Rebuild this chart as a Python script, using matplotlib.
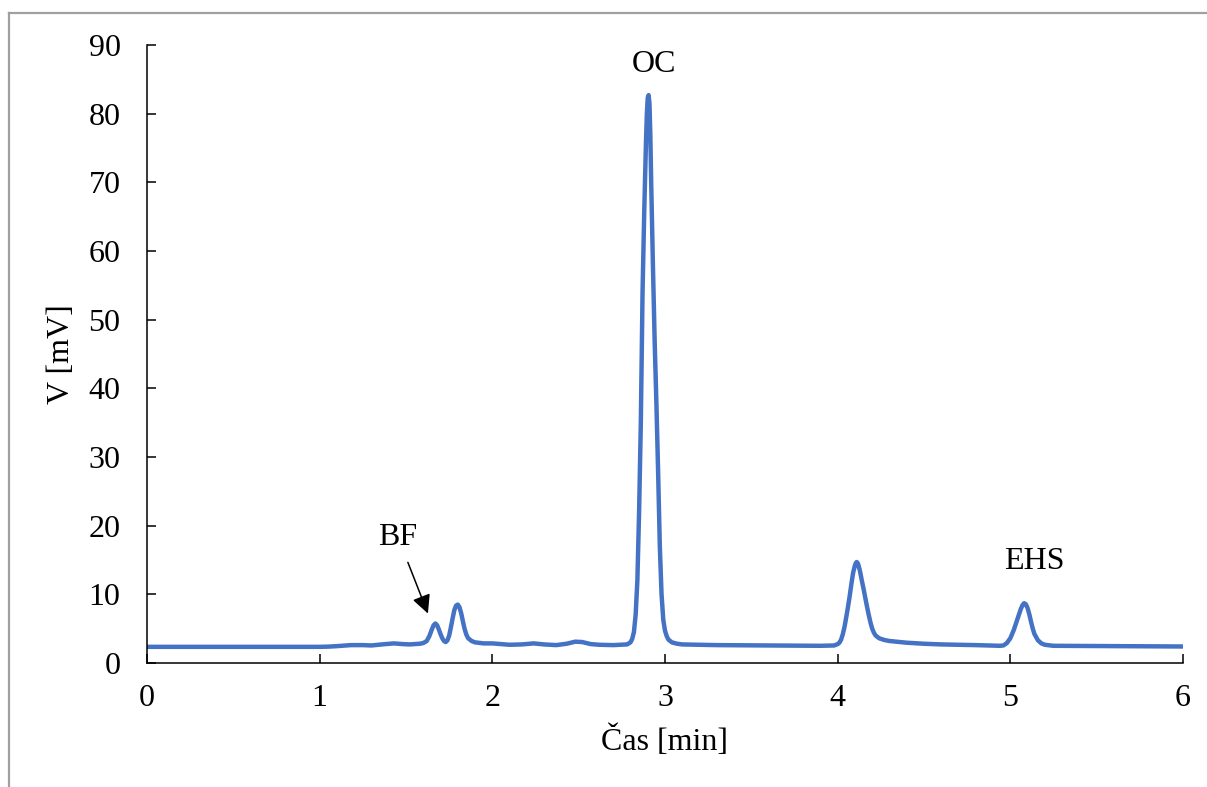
import matplotlib
matplotlib.use("Agg")
import matplotlib.pyplot as plt
from matplotlib.lines import Line2D

plt.rcParams["font.family"] = ["Liberation Serif", "DejaVu Serif"]

# Chromatogram: time [min] and signal [mV]
time_min = [0.00, 0.50, 1.00, 1.05, 1.10, 1.18, 1.25, 1.30, 1.36, 1.43,
            1.48, 1.52, 1.58, 1.60, 1.62, 1.635, 1.65, 1.66, 1.67, 1.68,
            1.69, 1.70, 1.71, 1.72, 1.73, 1.74, 1.75, 1.76, 1.77, 1.78,
            1.79, 1.80, 1.81, 1.82, 1.83, 1.84, 1.85, 1.86, 1.88, 1.90,
            1.95, 2.00, 2.05, 2.10, 2.17, 2.24, 2.30, 2.37, 2.43, 2.48,
            2.52, 2.57, 2.62, 2.70, 2.78, 2.80, 2.81, 2.82, 2.83, 2.84,
            2.85, 2.86, 2.87, 2.88, 2.89, 2.895, 2.90, 2.905, 2.91, 2.915,
            2.92, 2.93, 2.94, 2.95, 2.96, 2.97, 2.98, 2.99, 3.00, 3.01,
            3.02, 3.04, 3.07, 3.10, 3.30, 3.60, 3.90, 3.98, 4.00, 4.01,
            4.02, 4.03, 4.04, 4.05, 4.06, 4.07, 4.08, 4.09, 4.10, 4.105,
            4.11, 4.115, 4.12, 4.13, 4.14, 4.15, 4.16, 4.17, 4.18, 4.19,
            4.20, 4.21, 4.22, 4.24, 4.27, 4.30, 4.40, 4.50, 4.60, 4.80,
            4.94, 4.96, 4.98, 5.00, 5.02, 5.04, 5.06, 5.07, 5.08, 5.09,
            5.10, 5.11, 5.12, 5.13, 5.14, 5.16, 5.18, 5.20, 5.25, 5.60,
            6.00]
signal_mv = [2.35, 2.35, 2.35, 2.38, 2.45, 2.60, 2.60, 2.55, 2.70, 2.85,
             2.75, 2.70, 2.80, 2.90, 3.20, 3.90, 4.90, 5.50, 5.75, 5.50,
             4.90, 4.20, 3.60, 3.20, 3.05, 3.30, 4.00, 5.20, 6.50, 7.70,
             8.35, 8.50, 8.10, 7.20, 6.00, 4.90, 4.10, 3.60, 3.20, 3.00,
             2.85, 2.85, 2.75, 2.65, 2.70, 2.85, 2.70, 2.60, 2.80, 3.10,
             3.05, 2.75, 2.65, 2.60, 2.70, 3.00, 3.50, 4.50, 7.00, 12.0,
             22.0, 35.0, 54.0, 66.0, 76.0, 80.0, 82.3, 82.7, 81.5, 77.0,
             70.0, 58.0, 47.0, 38.0, 28.0, 17.0, 10.0, 6.30, 4.70, 3.90,
             3.40, 3.00, 2.80, 2.70, 2.60, 2.55, 2.50, 2.55, 2.75, 2.95,
             3.40, 4.20, 5.30, 6.70, 8.20, 9.80, 11.6, 13.2, 14.2, 14.55,
             14.7, 14.6, 14.3, 13.3, 12.0, 10.8, 9.50, 8.20, 7.00, 5.90,
             5.00, 4.40, 4.00, 3.60, 3.35, 3.20, 2.95, 2.80, 2.70, 2.60,
             2.50, 2.55, 2.90, 3.60, 4.80, 6.30, 7.80, 8.40, 8.70, 8.55,
             8.00, 7.10, 6.00, 5.00, 4.20, 3.30, 2.85, 2.65, 2.50, 2.45,
             2.40]

# Peak labels: text, x, y
peak_labels = ["OC", "EHS"]
peak_x = [2.936, 5.137]
peak_y = [87.2, 14.85]

x_ticks = [0, 1, 2, 3, 4, 5, 6]
y_ticks = [0, 10, 20, 30, 40, 50, 60, 70, 80, 90]

fig = plt.figure(figsize=(12.07, 7.87), dpi=100)
ax = fig.add_axes([0.1218, 0.1576, 0.8583, 0.7852])

ax.plot(time_min, signal_mv, color="#4472C4", linewidth=3.2,
        solid_capstyle="round", solid_joinstyle="round")

ax.set_xlim(0, 6)
ax.set_ylim(0, 90)
ax.set_xticks(x_ticks)
ax.set_yticks(y_ticks)
ax.tick_params(direction="in", length=6.5, width=1.1, labelsize=23, pad=15)
ax.tick_params(axis="y", pad=19)

for side in ["top", "right"]:
    ax.spines[side].set_visible(False)
for side in ["left", "bottom"]:
    ax.spines[side].set_linewidth(1.1)

ax.set_xlabel("Čas [min]", fontsize=23, labelpad=9)
ax.set_ylabel("V [mV]", fontsize=23, labelpad=9)

for text, x, y in zip(peak_labels, peak_x, peak_y):
    ax.text(x, y, text, fontsize=23, ha="center", va="center")

ax.annotate("BF", xy=(1.627, 7.2), xytext=(1.454, 18.3), fontsize=23,
            ha="center", va="center",
            arrowprops=dict(arrowstyle="-|>", color="black", lw=1.1,
                            mutation_scale=28, shrinkA=6, shrinkB=0))

# grey frame along the top and left of the picture
fig.add_artist(Line2D([9 / 1207, 1], [1 - 13 / 787, 1 - 13 / 787],
                      color="#A0A0A0", linewidth=1.6))
fig.add_artist(Line2D([9 / 1207, 9 / 1207], [0, 1 - 13 / 787],
                      color="#A0A0A0", linewidth=1.6))

plt.savefig("out.png", dpi=100)
